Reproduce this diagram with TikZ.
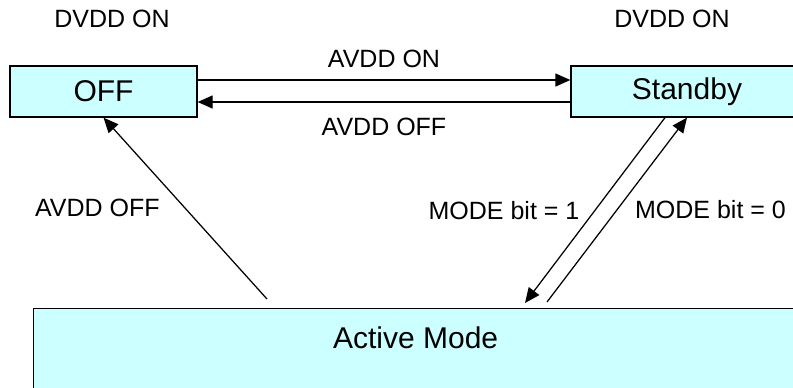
\documentclass[tikz,border=0pt]{standalone}
\usepackage{fontspec}
\setmainfont{Liberation Sans}
\usetikzlibrary{arrows.meta,positioning}
\definecolor{statefill}{HTML}{CCFFFF}

\begin{document}
\begin{tikzpicture}[
        x=0.4pt, y=-0.4pt,
        statebox/.style={draw, fill=statefill, line width=0.5pt, inner sep=0pt, font=\fontsize{12}{14}\selectfont},
        lbl/.style={inner sep=0pt, font=\fontsize{10}{12}\selectfont},
        >={Triangle[length=6pt, width=5.2pt]}
    ]
    \clip (0,0) rectangle (793,387);
    \node[statebox, minimum width=187*0.4pt, minimum height=51*0.4pt] (off) at (103.5,91.5) {OFF};
    \node[statebox, minimum width=232*0.4pt, minimum height=51*0.4pt] (standby) at (687,91.5) {Standby};
    \node[statebox, anchor=north west, minimum width=764*0.4pt, text height=22*0.4pt, text depth=34*0.4pt, inner ysep=18*0.4pt] (active) at (33,308) {Active Mode};
    \node[lbl] (dvddoff) at (112,19) {DVDD ON};
    \node[lbl] (dvddstandby) at (672,19) {DVDD ON};

    \coordinate (actoff) at (267,299);
    \coordinate (actin) at (525,303);
    \coordinate (actout) at (547,302);

    \draw[->, line width=0.5pt] ([yshift=11.5*0.4pt]off.east) -- node[lbl, above=4.8pt] {AVDD ON} ([yshift=11.5*0.4pt]standby.west);
    \draw[->, line width=0.5pt] ([yshift=-10.5*0.4pt]standby.west) -- node[lbl, below=6pt] {AVDD OFF} ([yshift=-10.5*0.4pt]off.east);
    \draw[->, line width=0.5pt] (actoff) -- node[lbl, left=10pt] {AVDD OFF} (off.south);
    \draw[->, line width=0.5pt] ([xshift=-22*0.4pt]standby.south) -- node[lbl, left=6pt] {MODE bit = 1} (actin);
    \draw[->, line width=0.5pt] (actout) -- node[lbl, right=7pt] {MODE bit = 0} (standby.south);
\end{tikzpicture}
\end{document}
